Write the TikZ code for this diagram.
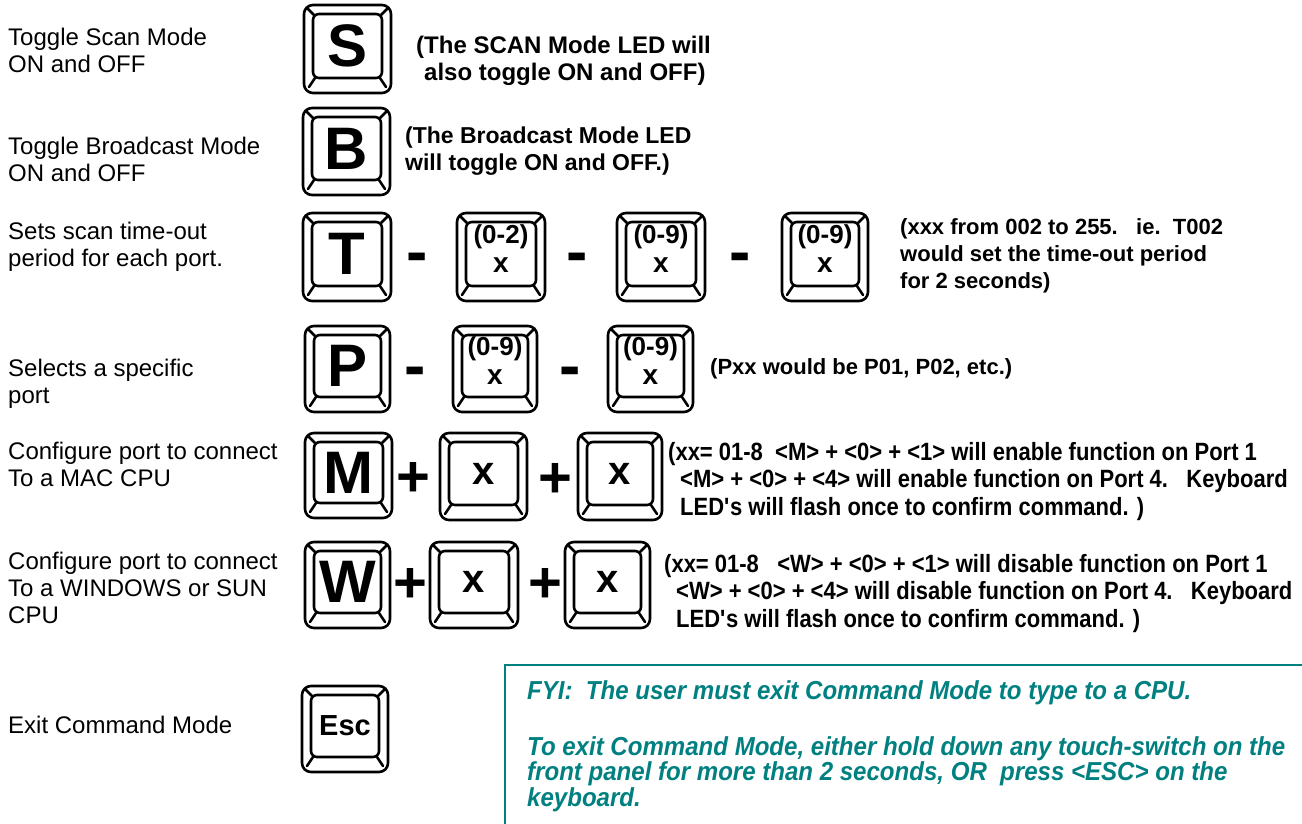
\documentclass[tikz,border=0pt]{standalone}
\usepackage{fontspec}
\setmainfont{Liberation Sans}
\newfontfamily\narrowfont[FakeStretch=0.88]{Liberation Sans}
\newfontfamily\fyifont[FakeStretch=0.925]{Liberation Sans}
\definecolor{fyiteal}{RGB}{0,128,128}
\newcommand\kbkey[7]{%
  \draw[keyline, rounded corners=9pt] (#2,#3) rectangle (#4,#5);
  \draw[keyline, rounded corners=6pt] (#2+9,#3+9) rectangle (#4-9,#5-15);
  \draw[keyline] (#2+10,#3+10) -- (#2+4,#3+4);
  \draw[keyline] (#4-10,#3+10) -- (#4-4,#3+4);
  \draw[keyline] (#2+11,#5-15) -- (#2+5,#5-6);
  \draw[keyline] (#4-11,#5-15) -- (#4-5,#5-6);
  \node[#6] (#1) at ({(#2+#4)/2},{(#3+#5-6)/2}) {#7};
}
\newcommand\digx{{\fontsize{28}{29}\selectfont x}}
\tikzset{
  x=1pt, y=-1pt,
  keyline/.style={line width=2.6pt, line join=round, line cap=round},
  bigkey/.style={inner sep=0pt, font=\bfseries\fontsize{60}{60}\selectfont},
  digkey/.style={inner sep=0pt, align=center, yshift=5pt, font=\bfseries\fontsize{26}{29}\selectfont},
  xkey/.style={inner sep=0pt, font=\bfseries\fontsize{40}{40}\selectfont},
  esckey/.style={inner sep=0pt, font=\bfseries\fontsize{29}{29}\selectfont},
  minussign/.style={anchor=base, inner sep=0pt, font=\bfseries\fontsize{64}{64}\selectfont},
  plussign/.style={anchor=base, inner sep=0pt, font=\bfseries\fontsize{58}{58}\selectfont},
  lbl/.style={anchor=north west, inner sep=0pt, align=left, font=\fontsize{24}{27}\selectfont},
  note/.style={anchor=north west, inner sep=0pt, align=left, font=\bfseries\fontsize{22}{27}\selectfont},
  nnote/.style={anchor=north west, inner sep=0pt, align=left, font=\narrowfont\bfseries\fontsize{25}{27.5}\selectfont},
  fyi/.style={anchor=north west, inner sep=0pt, align=left, text=fyiteal, font=\fyifont\bfseries\itshape\fontsize{26}{25.5}\selectfont},
}
\begin{document}
\begin{tikzpicture}
\useasboundingbox (0,0) rectangle (1302,824);
\fill[white] (0,0) rectangle (1302,824);
% left labels
\node[lbl] (l1) at (8,27.5) {Toggle Scan Mode\\ON and OFF};
\node[lbl] (l2) at (8,136.5) {Toggle Broadcast Mode\\ON and OFF};
\node[lbl] (l3) at (8,221.5) {Sets scan time-out\\period for each port.};
\node[lbl] (l4) at (8,358.5) {Selects a specific\\port};
\node[lbl] (l5) at (8,441.5) {Configure port to connect\\To a MAC CPU};
\node[lbl] (l6) at (8,551.5) {Configure port to connect\\To a WINDOWS or SUN\\CPU};
\node[lbl] (l7) at (8,715.5) {Exit Command Mode};
% keys
\kbkey{kS}{304}{5}{391}{93}{bigkey}{S}
\kbkey{kB}{303}{108}{390}{195}{bigkey}{B}
\kbkey{kT}{303}{213}{391}{301}{bigkey}{T}
\kbkey{kTa}{457}{213}{545}{301}{digkey}{(0-2)\\\digx}
\kbkey{kTb}{617}{213}{705}{301}{digkey}{(0-9)\\\digx}
\kbkey{kTc}{782}{213}{868}{301}{digkey}{(0-9)\\\digx}
\kbkey{kP}{305}{326}{390}{412}{bigkey}{P}
\kbkey{kPa}{453}{326}{537}{412}{digkey}{(0-9)\\\digx}
\kbkey{kPb}{608}{326}{693}{412}{digkey}{(0-9)\\\digx}
\kbkey{kM}{305}{433}{392}{518}{bigkey}{M}
\kbkey{kMa}{440}{433}{527}{520}{xkey}{x}
\kbkey{kMb}{578}{433}{662}{520}{xkey}{x}
\kbkey{kW}{305}{542}{390}{628}{bigkey}{W}
\kbkey{kWa}{430}{542}{518}{628}{xkey}{x}
\kbkey{kWb}{565}{542}{650}{628}{xkey}{x}
\kbkey{kEsc}{302}{686}{388}{772}{esckey}{Esc}
% operators
\node[minussign] (mT1) at (417,273) {-};
\node[minussign] (mT2) at (577,273) {-};
\node[minussign] (mT3) at (740,273) {-};
\node[minussign] (mP1) at (415,387) {-};
\node[minussign] (mP2) at (570,387) {-};
\node[plussign] (pM1) at (413,496) {+};
\node[plussign] (pM2) at (555,497) {+};
\node[plussign] (pW1) at (410,602) {+};
\node[plussign] (pW2) at (545,602) {+};
% notes
\node[note, font=\bfseries\fontsize{24}{27}\selectfont] (nS) at (416,36) {(The SCAN Mode LED will\\\hspace*{8pt}also toggle ON and OFF)};
\node[note, font=\bfseries\fontsize{23}{27}\selectfont] (nB) at (405,126.5) {(The Broadcast Mode LED\\will toggle ON and OFF.)};
\node[note] (nT) at (900,218) {(xxx from 002 to 255.\ \ \ ie.\ \ T002\\would set the time-out period\\for 2 seconds)};
\node[note] (nP) at (710,358) {(Pxx would be P01, P02, etc.)};
\node[nnote] (nM) at (668,442) {(xx= 01-8\ \ <M> + <0> + <1> will enable function on Port 1\\\hspace*{12pt}<M> + <0> + <4> will enable function on Port 4.\ \ \ Keyboard\\\hspace*{12pt}LED\textquotesingle s will flash once to confirm command. )};
\node[nnote] (nW) at (664,554) {(xx= 01-8\ \ \ <W> + <0> + <1> will disable function on Port 1\\\hspace*{12pt}<W> + <0> + <4> will disable function on Port 4.\ \ \ Keyboard\\\hspace*{12pt}LED\textquotesingle s will flash once to confirm command. )};
% FYI box
\draw[fyiteal, line width=2.5pt] (505,830) -- (505,665) -- (1310,665);
\node[fyi] (f1) at (527,680) {FYI:\ \ The user must exit Command Mode to type to a CPU.};
\node[fyi] (f2) at (527,736) {To exit Command Mode, either hold down any touch-switch on the\\front panel for more than 2 seconds, OR\ \ press <ESC> on the\\keyboard.};
\end{tikzpicture}
\end{document}
